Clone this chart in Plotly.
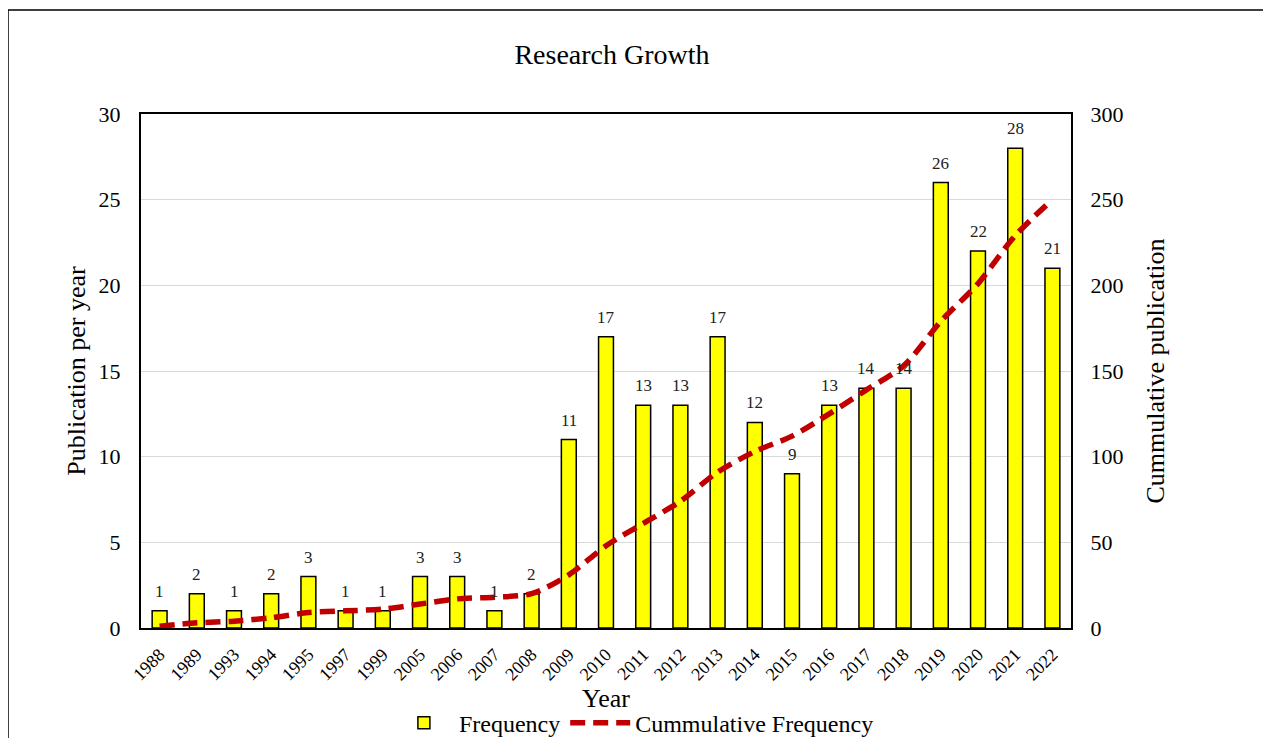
import plotly.graph_objects as go

years = ["1988", "1989", "1993", "1994", "1995", "1997", "1999", "2005", "2006", "2007",
         "2008", "2009", "2010", "2011", "2012", "2013", "2014", "2015", "2016", "2017",
         "2018", "2019", "2020", "2021", "2022"]
frequency = [1, 2, 1, 2, 3, 1, 1, 3, 3, 1, 2, 11, 17, 13, 13, 17, 12, 9, 13, 14, 14, 26, 22, 28, 21]
cumulative = [1, 3, 4, 6, 9, 10, 11, 14, 17, 18, 20, 31, 48, 61, 74, 91, 103, 112, 125, 139,
              153, 179, 201, 229, 250]

FONT = "Liberation Serif, Times New Roman, serif"

# page has an 8px body margin; plot area in figure coords
L, T, PW, PH = 133, 106, 930, 514
W, H = 1271, 738

fig = go.Figure()
fig.add_trace(go.Bar(
    x=years, y=frequency, name="Frequency",
    marker=dict(color="#FFFF00", line=dict(color="black", width=1.5)),
))
fig.add_trace(go.Scatter(
    x=years, y=cumulative, name="Cummulative Frequency", yaxis="y2",
    mode="lines", line=dict(color="#C00000", width=5.5, dash="15px,8px", shape="spline", smoothing=0.8),
))

# value labels above bars (x given as category index on the category axis)
for i, v in enumerate(frequency):
    fig.add_annotation(x=i, y=v, text=str(v), showarrow=False, yanchor="bottom", yshift=8,
                       font=dict(family=FONT, size=17, color="#222"))

fig.update_layout(
    width=W, height=H,
    margin=dict(l=L, r=W - L - PW, t=T, b=H - T - PH, autoexpand=False),
    paper_bgcolor="white", plot_bgcolor="white",
    font=dict(family=FONT, color="black"),
    title=dict(text="Research Growth", x=604 / W, xanchor="center", y=1 - 46 / H, yanchor="middle",
               font=dict(size=28, family=FONT)),
    bargap=0.6,
    showlegend=True,
    legend=dict(orientation="h", x=0.53, xanchor="center", y=-0.185, yanchor="middle",
                font=dict(size=24, family=FONT), itemwidth=60, traceorder="normal"),
    xaxis=dict(type="category", categoryorder="array", categoryarray=years,
               range=[-0.5, len(years) - 0.5],
               tickangle=-45, tickfont=dict(size=18, family=FONT), automargin=False,
               showline=True, linecolor="black", linewidth=2, mirror=True,
               ticks="outside", ticklen=7, tickcolor="rgba(0,0,0,0)",
               title=dict(text="Year", font=dict(size=26, family=FONT), standoff=0)),
    yaxis=dict(range=[0, 30], dtick=5, showgrid=True, gridcolor="#D9D9D9", gridwidth=1, automargin=False,
               showline=True, linecolor="black", linewidth=2, mirror=True, ticks="outside",
               ticklen=14, tickcolor="rgba(0,0,0,0)",
               tickfont=dict(size=22, family=FONT), zeroline=False,
               title=dict(text="Publication per year", font=dict(size=26, family=FONT), standoff=5)),
    yaxis2=dict(range=[0, 300], dtick=50, overlaying="y", side="right", showgrid=False, automargin=False,
                ticks="outside", ticklen=14, tickcolor="rgba(0,0,0,0)",
                tickfont=dict(size=22, family=FONT), zeroline=False,
                title=dict(text="Cummulative publication", font=dict(size=26, family=FONT), standoff=23)),
)

# outer chart border
fig.add_shape(type="rect", xref="paper", yref="paper",
              x0=(0 - L) / PW, x1=(1259 - L) / PW,
              y0=-0.4, y1=(T + PH - 2) / PH,
              line=dict(color="black", width=1.5), fillcolor="rgba(0,0,0,0)", layer="below")

fig.write_html("out.html")
